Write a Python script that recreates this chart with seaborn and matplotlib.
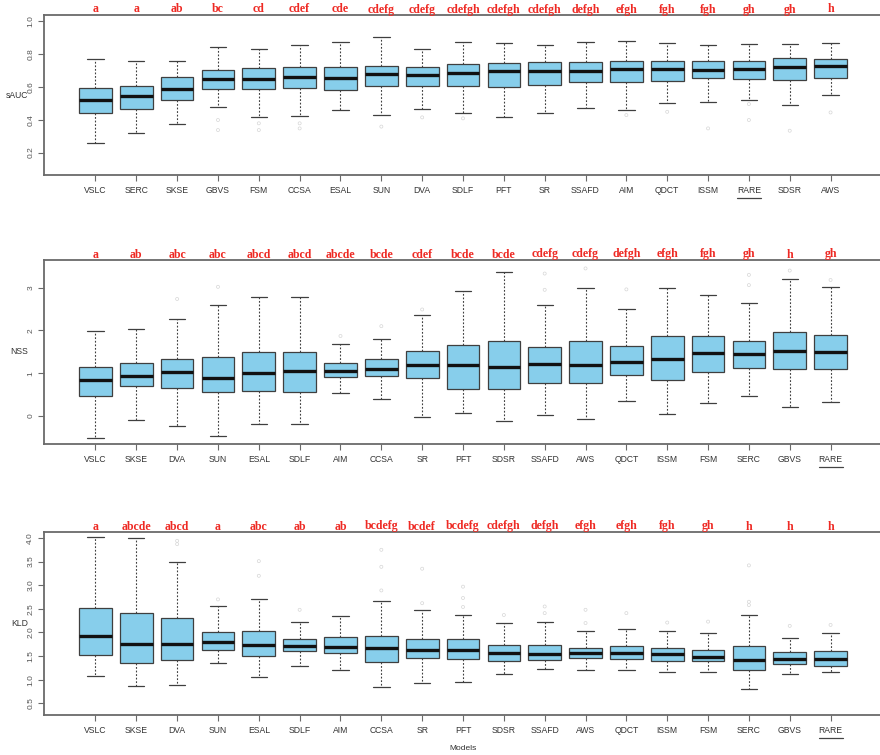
import numpy as np
import pandas as pd
import matplotlib
matplotlib.use("Agg")
import matplotlib.pyplot as plt
import seaborn as sns
from matplotlib.transforms import blended_transform_factory, offset_copy
from matplotlib.lines import Line2D

# ---------------- sAUC ----------------
sauc_models = ["VSLC", "SERC", "SKSE", "GBVS", "FSM", "CCSA", "ESAL", "SUN", "DVA", "SDLF",
               "PFT", "SR", "SSAFD", "AIM", "QDCT", "ISSM", "RARE", "SDSR", "AWS"]
sauc_low = [0.261, 0.317, 0.372, 0.477, 0.414, 0.422, 0.457, 0.428, 0.463, 0.442,
            0.418, 0.440, 0.471, 0.457, 0.499, 0.507, 0.519, 0.491, 0.547]
sauc_q1 = [0.442, 0.467, 0.521, 0.584, 0.588, 0.590, 0.580, 0.602, 0.606, 0.606,
           0.596, 0.610, 0.628, 0.632, 0.636, 0.651, 0.648, 0.644, 0.655]
sauc_med = [0.517, 0.541, 0.584, 0.648, 0.648, 0.657, 0.653, 0.675, 0.669, 0.683,
            0.693, 0.697, 0.697, 0.709, 0.709, 0.699, 0.705, 0.719, 0.725]
sauc_q3 = [0.594, 0.602, 0.661, 0.703, 0.713, 0.719, 0.719, 0.727, 0.719, 0.739,
           0.743, 0.749, 0.749, 0.754, 0.756, 0.756, 0.754, 0.774, 0.768]
sauc_high = [0.770, 0.756, 0.758, 0.842, 0.832, 0.853, 0.871, 0.901, 0.832, 0.873,
             0.867, 0.851, 0.873, 0.881, 0.865, 0.853, 0.859, 0.861, 0.865]
sauc_groups = ["a", "a", "ab", "bc", "cd", "cdef", "cde", "cdefg", "cdefg", "cdefgh",
               "cdefgh", "cdefgh", "defgh", "efgh", "fgh", "fgh", "gh", "gh", "h"]
sauc_out_model = ["GBVS", "GBVS", "FSM", "FSM", "CCSA", "CCSA", "SUN", "DVA", "SDLF",
                  "AIM", "QDCT", "ISSM", "RARE", "RARE", "SDSR", "AWS"]
sauc_out_value = [0.398, 0.337, 0.378, 0.337, 0.378, 0.347, 0.358, 0.414, 0.408,
                  0.428, 0.448, 0.347, 0.495, 0.398, 0.333, 0.444]

# ---------------- NSS ----------------
nss_models = ["VSLC", "SKSE", "DVA", "SUN", "ESAL", "SDLF", "AIM", "CCSA", "SR", "PFT",
              "SDSR", "SSAFD", "AWS", "QDCT", "ISSM", "FSM", "SERC", "GBVS", "RARE"]
nss_low = [-0.507, -0.086, -0.234, -0.468, -0.187, -0.179, 0.538, 0.390, -0.023, 0.078,
           -0.125, 0.016, -0.062, 0.351, 0.047, 0.304, 0.475, 0.203, 0.320]
nss_q1 = [0.468, 0.694, 0.663, 0.553, 0.585, 0.569, 0.912, 0.935, 0.896, 0.639,
          0.624, 0.779, 0.779, 0.951, 0.842, 1.029, 1.122, 1.091, 1.091]
nss_med = [0.850, 0.943, 1.029, 0.896, 1.013, 1.060, 1.060, 1.107, 1.185, 1.185,
           1.138, 1.216, 1.193, 1.255, 1.333, 1.481, 1.442, 1.512, 1.496]
nss_q3 = [1.146, 1.231, 1.341, 1.380, 1.489, 1.504, 1.239, 1.333, 1.512, 1.652,
          1.761, 1.621, 1.754, 1.637, 1.863, 1.878, 1.761, 1.964, 1.894]
nss_high = [1.995, 2.034, 2.268, 2.595, 2.790, 2.790, 1.684, 1.800, 2.354, 2.915,
            3.359, 2.588, 3.000, 2.510, 2.985, 2.829, 2.642, 3.196, 3.016]
nss_groups = ["a", "ab", "abc", "abc", "abcd", "abcd", "abcde", "bcde", "cdef", "bcde",
              "bcde", "cdefg", "cdefg", "defgh", "efgh", "fgh", "gh", "h", "gh"]
nss_out_model = ["DVA", "SUN", "AIM", "CCSA", "SR", "SSAFD", "SSAFD", "AWS", "QDCT",
                 "SERC", "SERC", "GBVS", "RARE"]
nss_out_value = [2.736, 3.02, 1.87, 2.10, 2.49, 2.95, 3.33, 3.45, 2.96,
                 3.30, 3.06, 3.40, 3.18]

# ---------------- KLD ----------------
kld_models = ["VSLC", "SKSE", "DVA", "SUN", "ESAL", "SDLF", "AIM", "CCSA", "SR", "PFT",
              "SDSR", "SSAFD", "AWS", "QDCT", "ISSM", "FSM", "SERC", "GBVS", "RARE"]
kld_low = [1.070, 0.859, 0.894, 1.352, 1.049, 1.282, 1.211, 0.838, 0.937, 0.944,
           1.113, 1.232, 1.211, 1.197, 1.162, 1.162, 0.803, 1.120, 1.155]
kld_q1 = [1.528, 1.352, 1.415, 1.634, 1.500, 1.599, 1.556, 1.366, 1.465, 1.444,
          1.394, 1.415, 1.451, 1.430, 1.394, 1.394, 1.197, 1.338, 1.296]
kld_med = [1.915, 1.746, 1.761, 1.803, 1.739, 1.711, 1.690, 1.662, 1.634, 1.627,
           1.563, 1.549, 1.556, 1.556, 1.535, 1.486, 1.415, 1.430, 1.444]
kld_q3 = [2.528, 2.408, 2.303, 2.014, 2.035, 1.866, 1.894, 1.923, 1.859, 1.859,
          1.732, 1.732, 1.669, 1.704, 1.669, 1.634, 1.704, 1.577, 1.599]
kld_high = [4.014, 4.000, 3.500, 2.556, 2.711, 2.232, 2.352, 2.676, 2.472, 2.373,
            2.211, 2.218, 2.021, 2.063, 2.035, 1.979, 2.373, 1.887, 1.986]
kld_groups = ["a", "abcde", "abcd", "a", "abc", "ab", "ab", "bcdefg", "bcdef", "bcdefg",
              "cdefgh", "defgh", "efgh", "efgh", "fgh", "gh", "h", "h", "h"]
kld_out_model = ["DVA", "DVA", "SUN", "ESAL", "ESAL", "SDLF", "CCSA", "CCSA", "CCSA",
                 "SR", "SR", "PFT", "PFT", "PFT", "SDSR", "SSAFD", "SSAFD", "AWS", "AWS",
                 "QDCT", "ISSM", "FSM", "SERC", "SERC", "SERC", "GBVS", "RARE"]
kld_out_value = [3.94, 3.87, 2.70, 3.51, 3.20, 2.48, 3.75, 3.39, 2.89,
                 3.35, 2.62, 2.97, 2.73, 2.54, 2.37, 2.55, 2.41, 2.48, 2.20,
                 2.41, 2.21, 2.23, 3.42, 2.65, 2.58, 2.14, 2.16]

sns.set_theme(style="white")
plt.rcParams["font.family"] = ["Liberation Sans", "DejaVu Sans"]

BOX_FILL = "#87CEEB"
EDGE = "#3f3f3f"
FRAME = "#6a6a6a"
LETTER_RED = "#ee2a24"

fig = plt.figure(figsize=(8.8, 7.55), dpi=100)

panels = [
    dict(models=sauc_models, low=sauc_low, q1=sauc_q1, med=sauc_med, q3=sauc_q3,
         high=sauc_high, groups=sauc_groups, om=sauc_out_model, ov=sauc_out_value,
         label="sAUC", ylim=(0.064, 1.036), ticks=[0.2, 0.4, 0.6, 0.8, 1.0], fmt="{:.1f}",
         rect=[0.05, 1 - 175 / 755, 0.9523, 160 / 755]),
    dict(models=nss_models, low=nss_low, q1=nss_q1, med=nss_med, q3=nss_q3,
         high=nss_high, groups=nss_groups, om=nss_out_model, ov=nss_out_value,
         label="NSS", ylim=(-0.655, 3.647), ticks=[0, 1, 2, 3], fmt="{:.0f}",
         rect=[0.05, 1 - 444 / 755, 0.9523, 184 / 755]),
    dict(models=kld_models, low=kld_low, q1=kld_q1, med=kld_med, q3=kld_q3,
         high=kld_high, groups=kld_groups, om=kld_out_model, ov=kld_out_value,
         label="KLD", ylim=(0.253, 4.127),
         ticks=[0.5, 1.0, 1.5, 2.0, 2.5, 3.0, 3.5, 4.0], fmt="{:.1f}",
         rect=[0.05, 1 - 715 / 755, 0.9523, 183 / 755]),
]

axes = []
for i, p in enumerate(panels):
    ax = fig.add_axes(p["rect"])
    axes.append(ax)
    # five-number summary per model; whiskers span the full (0, 100) percentile range
    rows = []
    for m, a, b, c, d, e in zip(p["models"], p["low"], p["q1"], p["med"], p["q3"], p["high"]):
        for v in (a, b, c, d, e):
            rows.append({"model": m, "value": v})
    df = pd.DataFrame(rows)
    sns.boxplot(data=df, x="model", y="value", order=p["models"], ax=ax,
                color=BOX_FILL, saturation=1, width=0.8, whis=(0, 100),
                linecolor=EDGE, linewidth=0.9, showfliers=False,
                medianprops={"color": "#111111", "linewidth": 2.4},
                whiskerprops={"color": EDGE, "linestyle": (0, (1.6, 1.6)), "linewidth": 0.8},
                capprops={"color": EDGE, "linewidth": 0.9})
    out_df = pd.DataFrame({"model": p["om"], "value": p["ov"]})
    sns.stripplot(data=out_df, x="model", y="value", order=p["models"], ax=ax,
                  jitter=False, size=2.2, marker="o", facecolor="none",
                  edgecolor="#d6d6d6", linewidth=0.5, color="none")

    n = len(p["models"])
    ax.set_xlim(-1.26, n - 1 + 1.26)
    ax.set_ylim(*p["ylim"])
    ax.set_yticks(p["ticks"])
    ax.set_yticklabels([p["fmt"].format(t) for t in p["ticks"]], rotation=90,
                       va="center", fontsize=6, color="#555555")
    ax.set_xticks(range(n))
    ax.set_xticklabels(p["models"], fontsize=6.2, color="#333333")
    ax.tick_params(axis="both", which="both", direction="out", length=4, width=0.8,
                   color=FRAME, left=True, bottom=True)
    ax.tick_params(axis="x", pad=4)
    ax.tick_params(axis="y", pad=3)
    for s in ax.spines.values():
        s.set_visible(True)
        s.set_color(FRAME)
        s.set_linewidth(1.3)
    ax.set_ylabel(p["label"], rotation=0, ha="right", va="center", fontsize=6.2,
                  color="#333333")
    ax.yaxis.set_label_coords(-0.019, 0.5)
    if i == 2:
        ax.set_xlabel("Models", fontsize=6, color="#333333", va="center")
        ax.xaxis.set_label_coords(0.5, -33 / 183)
    else:
        ax.set_xlabel("")
    ax.grid(False)

    # significance group letters above each box
    trans = offset_copy(blended_transform_factory(ax.transData, ax.transAxes),
                        fig=fig, x=0, y=2.5, units="dots")
    for j, g in enumerate(p["groups"]):
        ax.text(j, 1.0, g, transform=trans, ha="center", va="baseline",
                fontsize=8.6, fontweight="bold", color=LETTER_RED,
                family=["Liberation Serif", "DejaVu Serif"], clip_on=False)

# underline the RARE label in each panel
fig.canvas.draw()
renderer = fig.canvas.get_renderer()
W, H = fig.bbox.width, fig.bbox.height
for ax in axes:
    for lab in ax.get_xticklabels():
        if lab.get_text() == "RARE":
            bb = lab.get_window_extent(renderer)
            y = bb.y0 - 3
            fig.add_artist(Line2D([bb.x0 / W, bb.x1 / W], [y / H, y / H],
                                  transform=fig.transFigure, color="#444444",
                                  linewidth=0.9))

fig.savefig("out.png", dpi=100, facecolor="white")
